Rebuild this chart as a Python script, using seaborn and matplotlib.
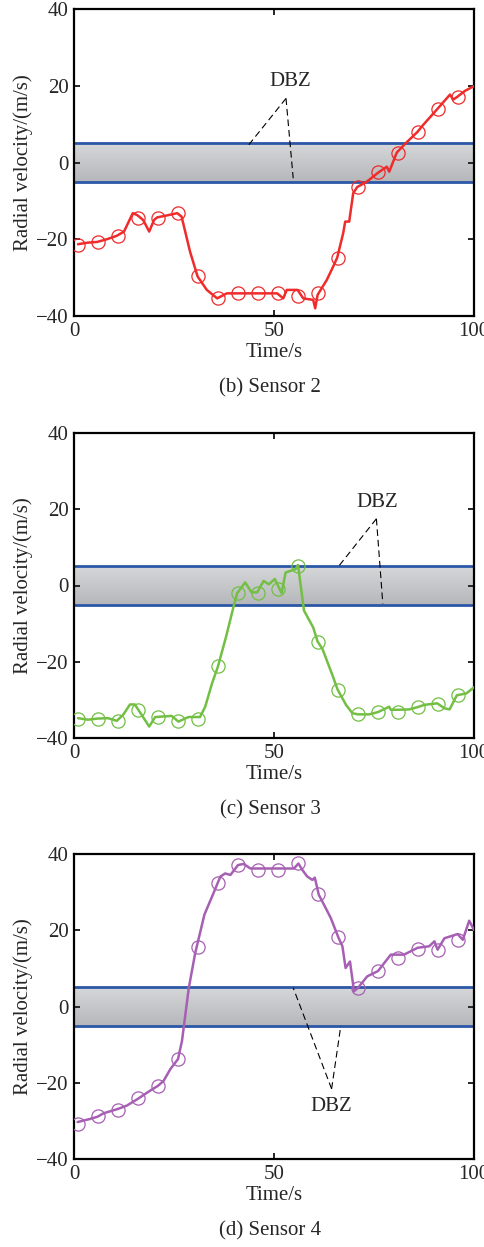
import matplotlib
matplotlib.use("Agg")
import matplotlib.pyplot as plt
import numpy as np
import pandas as pd
import seaborn as sns
from matplotlib.colors import LinearSegmentedColormap

sns.set_theme(style="ticks")
plt.rcParams["font.family"] = ["Liberation Serif", "DejaVu Serif"]
plt.rcParams["font.size"] = 15

# --- data ------------------------------------------------------------------
marker_t = [1, 6, 11, 16, 21, 26, 31, 36, 41, 46, 51, 56, 61, 66, 71, 76, 81, 86, 91, 96]

s2_t = [1, 3.3, 5.8, 8.2, 10.7, 12.5, 14.7, 15.8, 17.3, 18.8,
        20.0, 20.8, 23.2, 25.8, 26.9, 29.0, 30.9, 33.2, 35.8, 38.2,
        40.8, 50.8, 52.3, 53.2, 55.9, 57.3, 59.8, 60.3, 60.9, 63.2,
        64.8, 65.8, 67.3, 67.8, 68.8, 69.8, 70.8, 73.2, 76.1, 78.2,
        78.8, 80.7, 82.8, 85.8, 87.3, 90.8, 94.0, 94.8, 95.8, 97.8, 100]
s2_v = [-21.3, -20.9, -20.7, -20.0, -19.1, -18.0, -13.2, -13.7, -15.0, -18.0,
        -15.0, -14.3, -13.8, -13.2, -14.1, -23.2, -29.7, -33.2, -35.4, -34.1,
        -34.1, -34.1, -35.4, -33.2, -33.2, -35.4, -35.8, -38.0, -34.5, -30.6,
        -27.1, -24.8, -18.4, -15.4, -15.4, -8.0, -6.4, -5.0, -2.6, -1.1,
        -2.4, 2.6, 4.9, 7.9, 9.8, 13.9, 17.7, 16.4, 17.1, 18.7, 19.9]
s2_marks = [-21.5, -20.7, -19.1, -14.5, -14.4, -13.2, -29.7, -35.4, -34.1, -34.1,
            -34.1, -34.7, -34.1, -24.8, -6.4, -2.6, 2.6, 7.9, 13.9, 17.1]

s3_t = [1.0, 3.5, 5.9, 8.5, 10.7, 12.3, 14.0, 15.2, 16.9, 18.8,
        20.3, 24.4, 26.1, 28.6, 31.5, 32.8, 34.5, 36.0, 38.0, 39.9,
        40.8, 42.8, 44.4, 45.8, 47.4, 48.7, 50.2, 51.9, 52.9, 55.4,
        56.0, 57.5, 59.8, 60.9, 62.1, 64.6, 65.9, 68.0, 69.6, 71.0,
        73.8, 76.0, 78.8, 79.2, 80.9, 83.8, 85.9, 87.6, 90.8, 92.6,
        93.9, 95.7, 98.1, 100]
s3_v = [-34.8, -35.2, -34.9, -34.8, -35.5, -33.9, -31.2, -31.2, -33.9, -37.0,
        -34.5, -34.2, -35.7, -34.5, -34.5, -31.8, -25.7, -21.2, -13.5, -5.5,
        -2.0, 0.8, -1.8, -1.8, 1.2, 0.3, 1.7, -2.0, 3.4, 4.3,
        5.4, -6.6, -11.0, -14.7, -16.6, -23.5, -27.3, -31.3, -33.5, -33.8,
        -33.8, -33.2, -31.8, -32.6, -32.6, -32.5, -31.9, -31.3, -30.9, -32.2,
        -32.5, -28.8, -28.3, -26.7]
s3_marks = [-35.0, -35.0, -35.5, -32.6, -34.6, -35.5, -35.0, -21.2, -1.9, -2.0,
            -1.0, 5.0, -14.7, -27.3, -33.8, -33.2, -33.2, -31.9, -31.1, -28.8]

s4_t = [0.9, 4.0, 5.9, 7.4, 10.9, 13.2, 16.0, 19.0, 21.0, 22.4,
        24.1, 26.0, 27.0, 28.7, 30.3, 31.6, 32.6, 34.5, 36.6, 37.8,
        39.1, 41.0, 42.4, 44.1, 55.0, 56.1, 57.1, 58.3, 59.6, 60.2,
        61.2, 62.5, 64.2, 66.1, 67.1, 67.9, 69.0, 70.0, 71.0, 73.3,
        76.0, 79.2, 82.5, 85.9, 88.8, 90.1, 90.9, 92.6, 95.9, 97.2,
        98.8, 100]
s4_v = [-30.3, -29.5, -28.9, -28.0, -26.9, -26.0, -24.2, -22.1, -20.8, -19.5,
        -16.4, -13.8, -9.0, 4.9, 14.0, 19.7, 24.1, 28.8, 34.1, 34.9,
        34.5, 37.1, 37.4, 36.2, 36.2, 37.5, 35.8, 34.1, 33.2, 33.8,
        29.3, 26.7, 23.2, 18.1, 15.8, 10.1, 11.8, 4.0, 4.9, 7.9,
        9.3, 13.6, 13.6, 15.4, 15.8, 17.1, 14.9, 17.9, 19.0, 17.5,
        22.5, 20.1]
s4_marks = [-30.8, -28.6, -27.1, -24.1, -20.8, -13.9, 15.6, 32.5, 37.1, 35.8,
            35.8, 37.7, 29.5, 18.1, 4.9, 9.3, 12.8, 15.2, 14.7, 17.5]

dbz_limit = 5
# text position, apex of the pointer, and the two pointer ends
s2_dbz = dict(text=(54, 21), apex=(53, 16.7), ends=[(43.3, 4.1), (54.8, -4.1)])
s3_dbz = dict(text=(75.9, 21.9), apex=(75.6, 17.5), ends=[(65.9, 4.7), (77.2, -4.7)])
s4_dbz = dict(text=(64.2, -26.2), apex=(64.4, -21.6), ends=[(54.8, 4.9), (66.7, -5.1)])

BAND_CMAP = LinearSegmentedColormap.from_list("band", ["#b5b7ba", "#d6d7d9"])
BLUE = "#2b57a7"


def draw_panel(ax, t, v, marks, color, caption, dbz):
    # gray dead band with a soft vertical gradient
    grad = np.linspace(0, 1, 64).reshape(-1, 1)
    ax.imshow(grad, extent=[0, 100, -dbz_limit, dbz_limit], origin="lower",
              aspect="auto", cmap=BAND_CMAP, zorder=0)
    ax.axhline(dbz_limit, color=BLUE, lw=2.0, zorder=2)
    ax.axhline(-dbz_limit, color=BLUE, lw=2.0, zorder=2)

    line = pd.DataFrame({"t": t, "v": v})
    sns.lineplot(data=line, x="t", y="v", ax=ax, color=color, lw=1.8,
                 estimator=None, sort=False, zorder=3)
    ax.plot(marker_t, marks, ls="none", marker="o", ms=9.5, mfc="none",
            mec=color, mew=0.9, zorder=4)

    tx, ty = dbz["text"]
    ax.text(tx, ty, "DBZ", ha="center", va="center", fontsize=15, zorder=5)
    for ex, ey in dbz["ends"]:
        ax.plot([dbz["apex"][0], ex], [dbz["apex"][1], ey], color="black",
                lw=0.8, ls=(0, (6, 3.5)), zorder=5)

    ax.set_xlim(0, 100)
    ax.set_ylim(-40, 40)
    ax.set_xticks([0, 50, 100])
    ax.set_yticks([-40, -20, 0, 20, 40])
    ax.set_xlabel("Time/s", fontsize=15, labelpad=2)
    ax.set_ylabel("Radial velocity/(m/s)", fontsize=15, labelpad=2)
    ax.tick_params(direction="in", length=4.5, width=1.4, top=True, right=True,
                   labelsize=15, pad=4)
    for sp in ax.spines.values():
        sp.set_linewidth(1.6)
        sp.set_color("black")
    ax.text(0.49, -0.235, caption, transform=ax.transAxes, ha="center",
            va="center", fontsize=15)


fig = plt.figure(figsize=(4.85, 12.47), dpi=100)
W, H = 485, 1247
left, right = 74, 474
panels = [
    (9, 316, s2_t, s2_v, s2_marks, "#ef2b2b", "(b) Sensor 2", s2_dbz),
    (433, 738, s3_t, s3_v, s3_marks, "#72bf44", "(c) Sensor 3", s3_dbz),
    (854, 1159, s4_t, s4_v, s4_marks, "#a65fb3", "(d) Sensor 4", s4_dbz),
]
for top, bottom, t, v, marks, color, caption, dbz in panels:
    ax = fig.add_axes([left / W, 1 - bottom / H, (right - left) / W, (bottom - top) / H])
    draw_panel(ax, t, v, marks, color, caption, dbz)

fig.savefig("out.png", dpi=100)
